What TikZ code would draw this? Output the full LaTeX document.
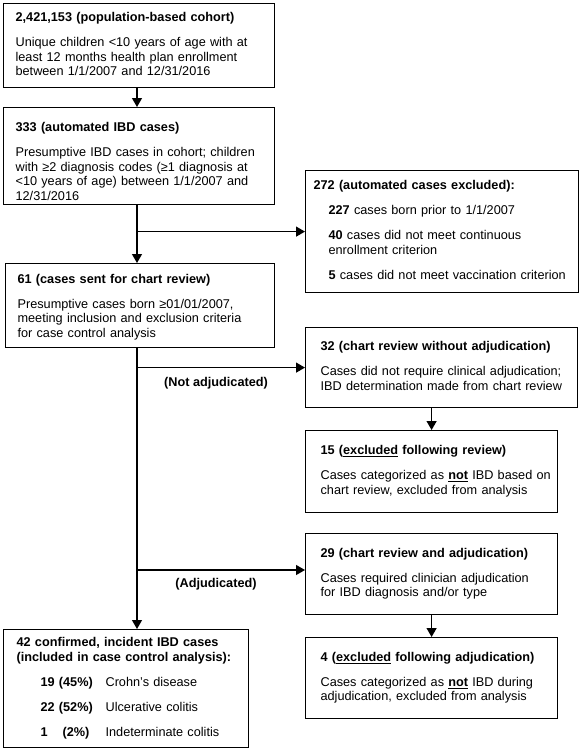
\documentclass[tikz,border=0pt]{standalone}
\usepackage{fontspec}
\setmainfont{Liberation Sans}
\usetikzlibrary{arrows.meta}
\newcommand\boxfnt{\fontsize{12.7}{14.5}\selectfont}
\begin{document}
\begin{tikzpicture}[x=1pt,y=-1pt,
  fbox/.style n args={3}{draw, line width=1.2pt, anchor=north west, align=left,
     inner ysep=0pt, inner xsep=#3pt, minimum width=#1pt, minimum height=#2pt, font=\boxfnt},
  arr/.style={line width=1.2pt, -{Triangle[length=9pt,width=10pt]}},
  lab/.style={font=\boxfnt\bfseries, inner sep=1pt}]
\useasboundingbox (0,0) rectangle (581,750);

\node[fbox={271}{84}{12}, text width=247pt] (b1) at (3,3) {\begin{tabular}{@{}l@{}}
\textbf{2,421,153 (population-based cohort)}\\[10.5pt]
Unique children <10 years of age with at\\
least 12 months health plan enrollment\\
between 1/1/2007 and 12/31/2016\end{tabular}};

\node[fbox={271}{94}{12}, text width=247pt] (b2) at (3,107) {\begin{tabular}{@{}l@{}}
\rule{0pt}{24pt}\textbf{333 (automated IBD cases)}\\[10.5pt]
Presumptive IBD cases in cohort; children\\
with ≥2 diagnosis codes (≥1 diagnosis at\\
<10 years of age) between 1/1/2007 and\\
12/31/2016\end{tabular}};

\node[fbox={273}{122}{8}, text width=257pt] (b3) at (305,170) {\begin{tabular}{@{}l@{}}
\textbf{272 (automated cases excluded):}\\[10.5pt]
\hspace*{15pt}\textbf{227} cases born prior to 1/1/2007\\[10.5pt]
\hspace*{15pt}\textbf{40} cases did not meet continuous\\
\hspace*{15pt}enrollment criterion\\[10.5pt]
\hspace*{15pt}\textbf{5} cases did not meet vaccination criterion\end{tabular}};

\node[fbox={269}{84}{12}, text width=245pt] (b4) at (5,263) {\begin{tabular}{@{}l@{}}
\rule{0pt}{14pt}\textbf{61 (cases sent for chart review)}\\[10.5pt]
Presumptive cases born ≥01/01/2007,\\
meeting inclusion and exclusion criteria\\
for case control analysis\end{tabular}};

\node[fbox={272}{80}{15}, text width=242pt] (b5) at (305,327) {\begin{tabular}{@{}l@{}}
\textbf{32 (chart review without adjudication)}\\[10.5pt]
Cases did not require clinical adjudication;\\
IBD determination made from chart review\end{tabular}};

\node[fbox={252}{82}{15}, text width=222pt] (b6) at (305,430) {\begin{tabular}{@{}l@{}}
\textbf{15 (\underline{excluded} following review)}\\[10.5pt]
Cases categorized as \textbf{\underline{not}} IBD based on\\
chart review, excluded from analysis\end{tabular}};

\node[fbox={252}{81}{15}, text width=222pt] (b7) at (305,533) {\begin{tabular}{@{}l@{}}
\textbf{29 (chart review and adjudication)}\\[10.5pt]
Cases required clinician adjudication\\
for IBD diagnosis and/or type\end{tabular}};

\node[fbox={252}{81}{15}, text width=222pt] (b8) at (305,637) {\begin{tabular}{@{}l@{}}
\textbf{4 (\underline{excluded} following adjudication)}\\[10.5pt]
Cases categorized as \textbf{\underline{not}} IBD during\\
adjudication, excluded from analysis\end{tabular}};

\node[fbox={245}{118}{13}, text width=219pt] (b9) at (3,629) {\begin{tabular}{@{}l@{}}
\textbf{42 confirmed, incident IBD cases}\\
\textbf{(included in case control analysis):}\\[10.5pt]
\hspace*{24pt}\makebox[65pt][l]{\textbf{19 (45\%)}}Crohn's disease\\[10.5pt]
\hspace*{24pt}\makebox[65pt][l]{\textbf{22 (52\%)}}Ulcerative colitis\\[10.5pt]
\hspace*{24pt}\makebox[65pt][l]{\textbf{1}\hspace{15pt}\textbf{(2\%)}}Indeterminate colitis\end{tabular}};

\coordinate (tx) at (137,0);
\coordinate (j1) at (tx |- b3.west);
\coordinate (j2) at (tx |- b5.west);
\coordinate (j3) at (137,570);

\draw[arr] (b1.south -| tx) -- (b2.north -| tx);
\draw[arr] (b2.south -| tx) -- (b4.north -| tx);
\draw[arr] (j1) -- (b3.west);
\draw[arr] (b4.south -| tx) -- (b9.north -| tx);
\draw[arr] (j2) -- (b5.west);
\draw[arr] (j3) -- (j3 -| b7.west);
\draw[arr] (b5.south -| b6.north) -- (b6.north);
\draw[arr] (b7.south) -- (b8.north);

\node[lab] (l1) at (216,383) {(Not adjudicated)};
\node[lab] (l2) at (216,584) {(Adjudicated)};
\end{tikzpicture}
\end{document}
